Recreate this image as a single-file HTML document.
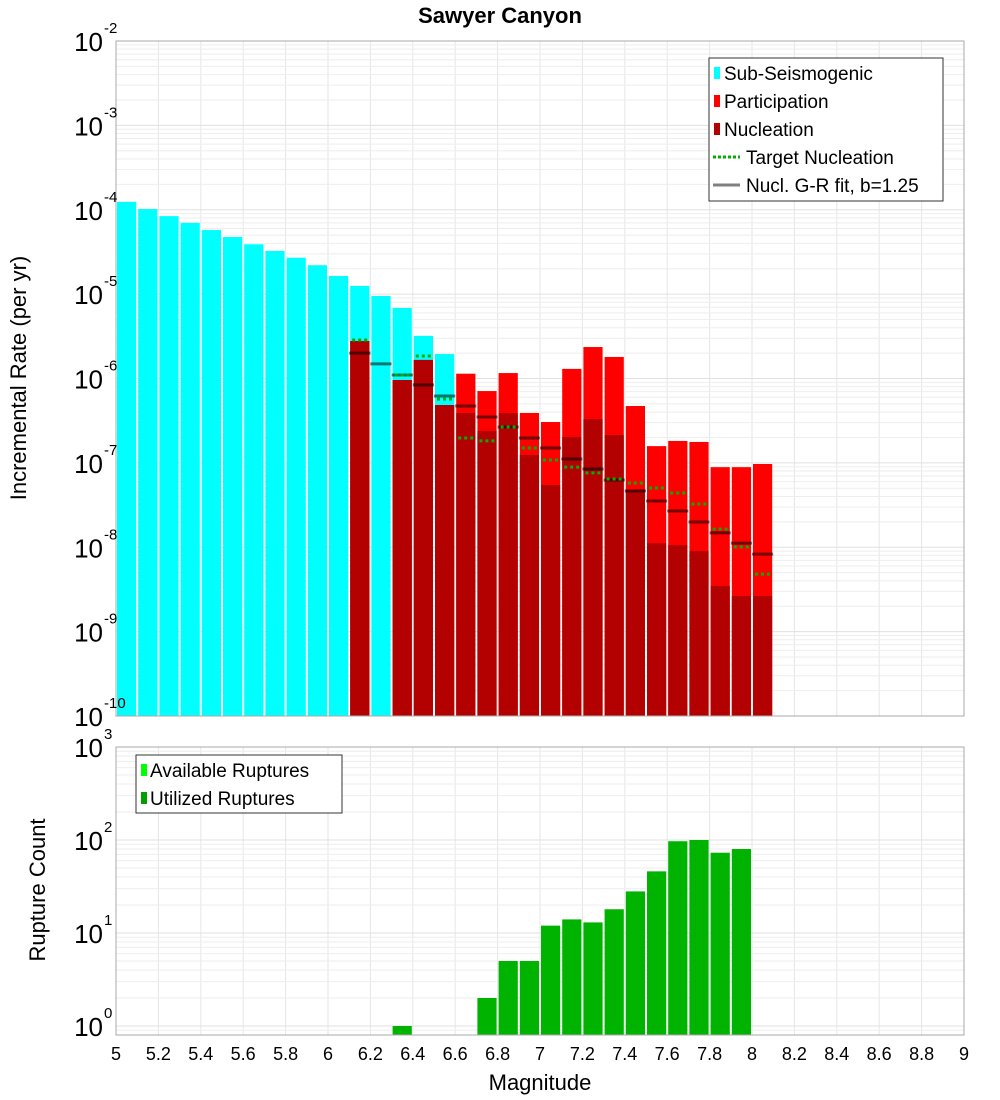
<!DOCTYPE html>
<html><head><meta charset="utf-8"><style>
body{margin:0;background:#fff;}
svg{display:block;font-family:"Liberation Sans","DejaVu Sans",sans-serif;}
</style></head><body>
<svg id="c" width="1000" height="1100" xmlns="http://www.w3.org/2000/svg">
<text x="500" y="23" text-anchor="middle" font-size="22" font-weight="bold">Sawyer Canyon</text>
<g id="g1"></g>
<g id="g2"></g>
<text transform="translate(26,378) rotate(-90)" text-anchor="middle" font-size="22">Incremental Rate (per yr)</text>
<text transform="translate(45,890) rotate(-90)" text-anchor="middle" font-size="22">Rupture Count</text>
<text x="540" y="1090" text-anchor="middle" font-size="22">Magnitude</text>
</svg>
<script>
const mags=[5.05,5.15,5.25,5.35,5.45,5.55,5.65,5.75,5.85,5.95,6.05,6.15,6.25,6.35,6.45,6.55,6.65,6.75,6.85,6.95,7.05,7.15,7.25,7.35,7.45,7.55,7.65,7.75,7.85,7.95,8.05];
const subSeis=[1.24e-4,1.02e-4,8.4e-5,7.0e-5,5.75e-5,4.75e-5,3.9e-5,3.25e-5,2.7e-5,2.2e-5,1.64e-5,1.25e-5,9.5e-6,6.85e-6,3.2e-6,1.95e-6,0,0,0,0,0,0,0,0,0,0,0,0,0,0,0];
const particip=[0,0,0,0,0,0,0,0,0,0,0,2.78e-6,0,9.6e-7,1.66e-6,4.85e-7,1.14e-6,7.1e-7,1.16e-6,3.9e-7,3.05e-7,1.30e-6,2.36e-6,1.80e-6,4.72e-7,1.58e-7,1.82e-7,1.77e-7,8.9e-8,8.9e-8,9.7e-8];
const nucl=[0,0,0,0,0,0,0,0,0,0,0,2.78e-6,0,9.6e-7,1.66e-6,4.85e-7,3.9e-7,2.39e-7,3.9e-7,1.24e-7,5.47e-8,2.03e-7,3.31e-7,2.14e-7,4.77e-8,1.12e-8,1.06e-8,9.0e-9,3.48e-9,2.64e-9,2.64e-9];
const target=[0,0,0,0,0,0,0,0,0,0,0,2.86e-6,0,1.10e-6,1.85e-6,5.7e-7,1.97e-7,1.82e-7,2.66e-7,1.50e-7,1.08e-7,8.9e-8,7.6e-8,6.45e-8,5.77e-8,5.04e-8,4.4e-8,3.26e-8,1.64e-8,1.01e-8,4.8e-9];
const grFit=[0,0,0,0,0,0,0,0,0,0,0,2.0e-6,1.49e-6,1.10e-6,8.4e-7,6.2e-7,4.72e-7,3.5e-7,2.66e-7,1.97e-7,1.50e-7,1.11e-7,8.45e-8,6.27e-8,4.65e-8,3.53e-8,2.69e-8,1.99e-8,1.48e-8,1.12e-8,8.3e-9];
const countMags=[6.35,6.75,6.85,6.95,7.05,7.15,7.25,7.35,7.45,7.55,7.65,7.75,7.85,7.95];
const utilized=[1,2,5,5,12,14,13,18,28,46,97,100,73,80];
const xTicks=["5","5.2","5.4","5.6","5.8","6","6.2","6.4","6.6","6.8","7","7.2","7.4","7.6","7.8","8","8.2","8.4","8.6","8.8","9"];
const rateExps=[-10,-9,-8,-7,-6,-5,-4,-3,-2];
const countExps=[0,1,2,3];

const NS="http://www.w3.org/2000/svg";
const L=116,R=964;
const X=m=>L+(m-5)*(R-L)/4;
const T1=41,B1=716,Y1=v=>B1-(Math.log10(v)+10)*(B1-T1)/8;
const T2=747,B2=1035,D2=93,Y2=v=>1026-Math.log10(v)*D2;
function mk(p,tag,a,name,txt){const e=document.createElementNS(NS,tag);for(const k in a)e.setAttribute(k,a[k]);


if(txt!==undefined)e.textContent=txt;p.appendChild(e);return e;}
const g1=document.getElementById('g1'),g2=document.getElementById('g2');
// frames & grids
function grid(g,T,B,Y,lo,hi){
 for(let i=0;i<xTicks.length;i++){const x=X(+xTicks[i]);mk(g,'line',{x1:x,x2:x,y1:T,y2:B,stroke:'#e6e6e6'},'v-grid');}
 for(let e=lo;e<=hi;e++)for(let k=1;k<10;k++){const v=k*Math.pow(10,e);const y=Y(v);if(y<T-0.5||y>B+0.5)continue;
  mk(g,'line',{x1:L,x2:R,y1:y,y2:y,stroke:k==1?'#e0e0e0':'#eeeeee'},'h-grid');}
}
grid(g1,T1,B1,Y1,-10,-2);
grid(g2,T2,B2,Y2,-1,2);
const bw=(R-L)/40;
// top bars
for(let i=0;i<mags.length;i++){const x0=X(mags[i])-bw/2+1,w=bw-2;
 if(subSeis[i]>0)mk(g1,'rect',{x:x0,y:Y1(subSeis[i]),width:w,height:B1-Y1(subSeis[i]),fill:'#00ffff'},'bar-sub-seismogenic');
 if(particip[i]>0)mk(g1,'rect',{x:x0,y:Y1(particip[i]),width:w,height:B1-Y1(particip[i]),fill:'#ff0000'},'bar-participation');
 if(nucl[i]>0)mk(g1,'rect',{x:x0,y:Y1(nucl[i]),width:w,height:B1-Y1(nucl[i]),fill:'#b30000'},'bar-nucleation');
}
for(let i=0;i<mags.length;i++){const x0=X(mags[i])-bw/2,x1=x0+bw;
 if(grFit[i]>0)mk(g1,'line',{x1:x0,x2:x1,y1:Y1(grFit[i]),y2:Y1(grFit[i]),stroke:'rgba(0,0,0,0.55)','stroke-width':3},'gr-fit-segment');
 if(target[i]>0)mk(g1,'line',{x1:x0+3,x2:x1-3,y1:Y1(target[i]),y2:Y1(target[i]),stroke:'#00b000','stroke-width':3,'stroke-dasharray':'3,3'},'target-nucleation-segment');
}
mk(g1,'rect',{x:L,y:T1,width:R-L,height:B1-T1,fill:'none',stroke:'#aaa'},'rate-plot-frame');
// bottom bars
for(let i=0;i<countMags.length;i++){const x0=X(countMags[i])-bw/2+1;
 mk(g2,'rect',{x:x0,y:Y2(utilized[i]),width:bw-2,height:B2-Y2(utilized[i]),fill:'#00b300'},'bar-utilized-ruptures');}
mk(g2,'rect',{x:L,y:T2,width:R-L,height:B2-T2,fill:'none',stroke:'#aaa'},'count-plot-frame');
// y tick labels
function ylab(g,y,e,name){const t=mk(g,'text',{x:103,y:y+10,'text-anchor':'end','font-size':26},name,'10');
 mk(g,'text',{x:104,y:y-8,'font-size':15},name+'-exp',String(e));}
rateExps.forEach(e=>ylab(g1,Y1(Math.pow(10,e)),e,'y-tick-label'));
countExps.forEach(e=>ylab(g2,Y2(Math.pow(10,e)),e,'count-tick-label'));
xTicks.forEach(t=>mk(g2,'text',{x:X(+t),y:1060,'text-anchor':'middle','font-size':18},'x-tick-label',t));
// legends
mk(g1,'rect',{x:709,y:58,width:234,height:143,fill:'#fff',stroke:'#333'},'legend-box');
const lg=[['Sub-Seismogenic','#00ffff','r'],['Participation','#ff0000','r'],['Nucleation','#b30000','r'],['Target Nucleation','#00b000','d'],['Nucl. G-R fit, b=1.25','#808080','l']];
lg.forEach((e,i)=>{const y=73+i*28;
 if(e[2]=='r')mk(g1,'rect',{x:714,y:y-6,width:6,height:12,fill:e[1]},'legend-swatch');
 else mk(g1,'line',{x1:713,x2:740,y1:y,y2:y,stroke:e[1],'stroke-width':3,'stroke-dasharray':e[2]=='d'?'3,2':'none'},'legend-swatch');
 mk(g1,'text',{x:e[2]=='r'?724:746,y:y+7,'font-size':19},'legend-entry',e[0]);});
mk(g2,'rect',{x:136,y:755,width:206,height:58,fill:'#fff',stroke:'#333'},'count-legend-box');
[['Available Ruptures','#00ff00'],['Utilized Ruptures','#00a000']].forEach((e,i)=>{const y=770+i*28;
 mk(g2,'rect',{x:141,y:y-6,width:6,height:12,fill:e[1]},'legend-swatch');
 mk(g2,'text',{x:150,y:y+7,'font-size':19},'legend-entry',e[0]);});
</script>
</body></html>
